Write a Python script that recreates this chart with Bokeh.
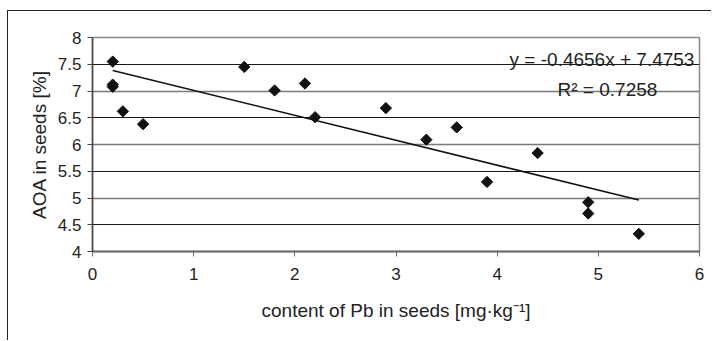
import math
from bokeh.plotting import figure
from bokeh.models import Range1d, FixedTicker, Grid
from bokeh.core.properties import value
from bokeh.embed import file_html
from bokeh.resources import INLINE

# data
pb_content = [0.2, 0.2, 0.2, 0.3, 0.5, 1.5, 1.8, 2.1, 2.2, 2.9, 3.3, 3.6, 3.9, 4.4, 4.9, 4.9, 5.4]
aoa = [7.55, 7.12, 7.08, 6.62, 6.38, 7.45, 7.01, 7.14, 6.51, 6.68, 6.09, 6.32, 5.30, 5.84, 4.92, 4.71, 4.33]
slope = -0.4656
intercept = 7.4753
r_squared = 0.7258
x_ticks = [0, 1, 2, 3, 4, 5, 6]
y_ticks = [4, 4.5, 5, 5.5, 6, 6.5, 7, 7.5, 8]
y_tick_labels = ["4", "4.5", "5", "5.5", "6", "6.5", "7", "7.5", "8"]

FONT = "Liberation Sans"

p = figure(width=704, height=330, output_backend="svg", toolbar_location=None,
           x_range=Range1d(0, 6), y_range=Range1d(4, 8),
           min_border_left=84, min_border_top=26, min_border_right=13, min_border_bottom=90)
p.styles = {"margin-left": "7px", "margin-top": "10px",
            "border-left": "1px solid #222", "border-top": "1px solid #222"}

p.background_fill_color = "white"
p.border_fill_color = "white"
p.outline_line_color = "#8a8a8a"
p.outline_line_width = 1.5

# grids: integer lines grey, half lines dark
p.xgrid.visible = False
p.ygrid.visible = False
int_ticks = [t for t in y_ticks if float(t).is_integer()]
half_ticks = [t for t in y_ticks if not float(t).is_integer()]
p.add_layout(Grid(dimension=1, ticker=FixedTicker(ticks=int_ticks),
                  grid_line_color="#7a7a7a", grid_line_width=1.5))
p.add_layout(Grid(dimension=1, ticker=FixedTicker(ticks=half_ticks),
                  grid_line_color="#1a1a1a", grid_line_width=1))

p.xaxis.ticker = FixedTicker(ticks=x_ticks)
p.yaxis.ticker = FixedTicker(ticks=y_ticks)
p.yaxis.major_label_overrides = {t: l for t, l in zip(y_ticks, y_tick_labels)}
p.xaxis.major_label_overrides = {t: str(t) for t in x_ticks}

for ax in (p.xaxis, p.yaxis):
    ax.minor_tick_line_color = None
    ax.major_tick_in = 0
    ax.major_tick_out = 5
    ax.major_label_text_font = FONT
    ax.major_label_text_font_size = "17px"
    ax.major_label_text_color = "#222222"
    ax.axis_label_text_font = FONT
    ax.axis_label_text_font_size = "19px"
    ax.axis_label_text_font_style = "normal"
    ax.axis_label_text_color = "#222222"

p.xaxis.axis_line_color = "#6a6a6a"
p.xaxis.axis_line_width = 2
p.xaxis.major_tick_line_color = "#6a6a6a"
p.yaxis.axis_line_color = "#444444"
p.yaxis.axis_line_width = 1.5
p.yaxis.major_tick_line_color = "#444444"

p.xaxis.major_label_standoff = 11
p.yaxis.major_label_standoff = 6
p.xaxis.axis_label = "content of Pb in seeds [mg·kg⁻¹]"
p.yaxis.axis_label = "AOA in seeds [%]"
p.xaxis.axis_label_standoff = 17
p.yaxis.axis_label_standoff = 5

# trend line
x0, x1 = min(pb_content), max(pb_content)
p.line([x0, x1], [slope * x0 + intercept, slope * x1 + intercept],
       line_color="#111111", line_width=1.5)

# points
p.scatter(pb_content, aoa, marker="square", angle=math.pi / 4, size=8,
          fill_color="#111111", line_color="#111111")

eq = f"y = {slope:.4f}x + {intercept:.4f}"
p.text([5.95], [7.59], text=[eq], text_align="right", text_baseline="alphabetic",
       text_font=value(FONT), text_font_size="19px", text_color="#222222")
p.text([5.09], [7.02], text=[f"R² = {r_squared:.4f}"], text_align="center",
       text_baseline="alphabetic",
       text_font=value(FONT), text_font_size="19px", text_color="#222222")

open("out.html", "w").write(file_html(p, INLINE))
